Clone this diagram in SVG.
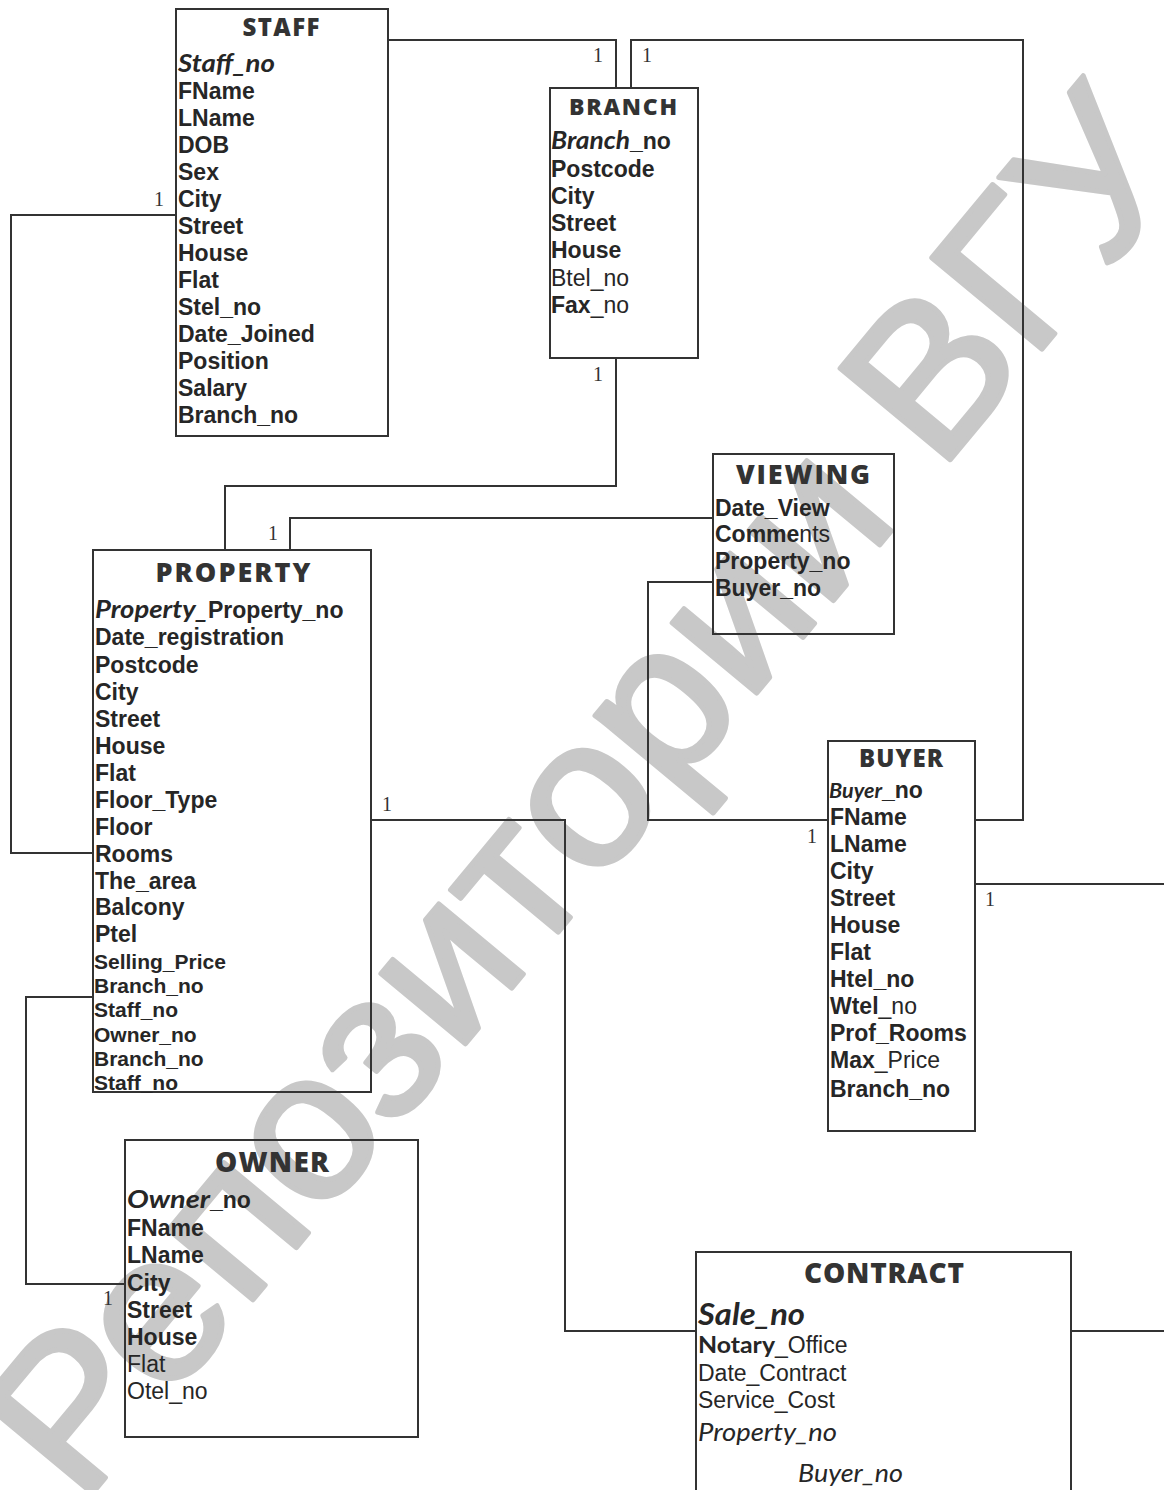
<svg xmlns="http://www.w3.org/2000/svg" width="1164" height="1490" viewBox="0 0 1164 1490">
<style>
.bg{fill:#ffffff}
.box{fill:none;stroke:#333333;stroke-width:2}
.wire{fill:none;stroke:#333333;stroke-width:2}
.t{font-family:"Open Sans","Noto Sans",sans-serif;font-weight:800;fill:#333333;text-anchor:middle}
.r{font-family:"Liberation Sans",Arial,sans-serif;font-weight:bold;font-size:23px;fill:#262626}
.rs{font-size:21px}
.n{font-weight:normal}
.it{font-family:"Lato","Open Sans",sans-serif;font-style:italic;font-weight:bold}
.itn{font-family:"Lato","Open Sans",sans-serif;font-style:italic;font-weight:normal}
.cb{font-family:"Lato","Open Sans",sans-serif;font-weight:bold}
.one{font-family:"Liberation Serif","Times New Roman",serif;font-size:20px;fill:#333333;text-anchor:middle}
.wm{font-family:"Liberation Sans",Arial,sans-serif;font-size:208px;fill:#c8c8c8;stroke:#c8c8c8;stroke-width:5;stroke-linejoin:round;text-anchor:middle}
</style>
<rect class="bg" x="0" y="0" width="1164" height="1490"/>

<g id="watermark">
<text class="wm" x="0" y="0" transform="translate(580,790) rotate(-50.3)" dy="74" textLength="1740" lengthAdjust="spacingAndGlyphs">Репозитории ВГУ</text>
</g>

<g id="connectors">
<path class="wire" d="M388,40 H616 V88"/>
<path class="wire" d="M631,88 V40 H1023 V820 H975"/>
<path class="wire" d="M176,215 H11 V853 H93"/>
<path class="wire" d="M616,358 V486 H225 V550"/>
<path class="wire" d="M713,518 H290 V550"/>
<path class="wire" d="M713,582 H648 V820 H827"/>
<path class="wire" d="M371,820 H565 V1331 H696"/>
<path class="wire" d="M975,884 H1164"/>
<path class="wire" d="M1071,1331 H1164"/>
<path class="wire" d="M93,997 H26 V1284 H124"/>
<text class="one" x="598" y="62">1</text>
<text class="one" x="647" y="62">1</text>
<text class="one" x="159" y="206">1</text>
<text class="one" x="598" y="381">1</text>
<text class="one" x="273" y="540">1</text>
<text class="one" x="387" y="811">1</text>
<text class="one" x="812" y="843">1</text>
<text class="one" x="990" y="906">1</text>
<text class="one" x="108" y="1305">1</text>
</g>

<g id="staff">
<rect class="box" x="176" y="9" width="212" height="427"/>
<text class="t" x="281" y="36" font-size="24" textLength="77" lengthAdjust="spacing">STAFF</text>
<text class="r" x="178" y="72"><tspan class="it" font-size="25" textLength="97" lengthAdjust="spacingAndGlyphs">Staff_no</tspan></text>
<text class="r" x="178" y="99">FName</text>
<text class="r" x="178" y="126">LName</text>
<text class="r" x="178" y="153">DOB</text>
<text class="r" x="178" y="180">Sex</text>
<text class="r" x="178" y="207">City</text>
<text class="r" x="178" y="234">Street</text>
<text class="r" x="178" y="261">House</text>
<text class="r" x="178" y="288">Flat</text>
<text class="r" x="178" y="315">Stel_no</text>
<text class="r" x="178" y="342">Date_Joined</text>
<text class="r" x="178" y="369">Position</text>
<text class="r" x="178" y="396">Salary</text>
<text class="r" x="178" y="423">Branch_no</text>
</g>

<g id="branch">
<rect class="box" x="550" y="88" width="148" height="270"/>
<text class="t" x="623" y="115" font-size="23" textLength="108" lengthAdjust="spacing">BRANCH</text>
<text class="r" x="551" y="149"><tspan class="it" font-size="24" textLength="79" lengthAdjust="spacingAndGlyphs">Branch</tspan><tspan>_no</tspan></text>
<text class="r" x="551" y="177">Postcode</text>
<text class="r" x="551" y="204">City</text>
<text class="r" x="551" y="231">Street</text>
<text class="r" x="551" y="258">House</text>
<text class="r n" x="551" y="286">Btel_no</text>
<text class="r" x="551" y="313">Fax<tspan class="n">_no</tspan></text>
</g>

<g id="viewing">
<rect class="box" x="713" y="454" width="181" height="180"/>
<text class="t" x="803" y="484" font-size="27" textLength="134" lengthAdjust="spacing">VIEWING</text>
<text class="r" x="715" y="516">Date_View</text>
<text class="r" x="715" y="542">Comme<tspan class="n">nts</tspan></text>
<text class="r" x="715" y="569">Property_no</text>
<text class="r" x="715" y="596">Buyer_no</text>
</g>

<g id="property">
<rect class="box" x="93" y="550" width="278" height="542"/>
<text class="t" x="233" y="582" font-size="27" textLength="155" lengthAdjust="spacing">PROPERTY</text>
<text class="r" x="95" y="618"><tspan class="it" font-size="25" textLength="113" lengthAdjust="spacingAndGlyphs">Property_</tspan><tspan>Property_no</tspan></text>
<text class="r" x="95" y="645">Date_registration</text>
<text class="r" x="95" y="673">Postcode</text>
<text class="r" x="95" y="700">City</text>
<text class="r" x="95" y="727">Street</text>
<text class="r" x="95" y="754">House</text>
<text class="r" x="95" y="781">Flat</text>
<text class="r" x="95" y="808">Floor_Type</text>
<text class="r" x="95" y="835">Floor</text>
<text class="r" x="95" y="862">Rooms</text>
<text class="r" x="95" y="889">The_area</text>
<text class="r" x="95" y="915">Balcony</text>
<text class="r" x="95" y="942">Ptel</text>
<text class="r rs" x="94" y="969">Selling_Price</text>
<text class="r rs" x="94" y="993">Branch_no</text>
<text class="r rs" x="94" y="1017">Staff_no</text>
<text class="r rs" x="94" y="1042">Owner_no</text>
<text class="r rs" x="94" y="1066">Branch_no</text>
<text class="r rs" x="94" y="1090">Staff_no</text>
</g>

<g id="buyer">
<rect class="box" x="828" y="741" width="147" height="390"/>
<text class="t" x="901" y="767" font-size="24" textLength="84" lengthAdjust="spacing">BUYER</text>
<text class="r" x="829" y="798"><tspan class="it" font-size="20" textLength="53" lengthAdjust="spacingAndGlyphs">Buyer</tspan><tspan>_no</tspan></text>
<text class="r" x="830" y="825">FName</text>
<text class="r" x="830" y="852">LName</text>
<text class="r" x="830" y="879">City</text>
<text class="r" x="830" y="906">Street</text>
<text class="r" x="830" y="933">House</text>
<text class="r" x="830" y="960">Flat</text>
<text class="r" x="830" y="987">Htel_no</text>
<text class="r" x="830" y="1014">Wtel<tspan class="n">_no</tspan></text>
<text class="r" x="830" y="1041">Prof_Rooms</text>
<text class="r" x="830" y="1068">Max<tspan class="n">_Price</tspan></text>
<text class="r" x="830" y="1097">Branch_no</text>
</g>

<g id="owner">
<rect class="box" x="125" y="1140" width="293" height="297"/>
<text class="t" x="272" y="1172" font-size="28" textLength="114" lengthAdjust="spacing">OWNER</text>
<text class="r" x="127" y="1208"><tspan class="it" font-size="25" textLength="83" lengthAdjust="spacingAndGlyphs">Owner</tspan><tspan>_no</tspan></text>
<text class="r" x="127" y="1236">FName</text>
<text class="r" x="127" y="1263">LName</text>
<text class="r" x="127" y="1291">City</text>
<text class="r" x="127" y="1318">Street</text>
<text class="r" x="127" y="1345">House</text>
<text class="r n" x="127" y="1372">Flat</text>
<text class="r n" x="127" y="1399">Otel_no</text>
</g>

<g id="contract">
<rect class="box" x="696" y="1252" width="375" height="250"/>
<text class="t" x="884" y="1283" font-size="28" textLength="160" lengthAdjust="spacing">CONTRACT</text>
<text class="r" x="698" y="1325"><tspan class="it" font-size="30" textLength="107" lengthAdjust="spacingAndGlyphs">Sale_no</tspan></text>
<text class="r" x="698" y="1353"><tspan class="cb" font-size="23" textLength="77" lengthAdjust="spacingAndGlyphs">Notary</tspan><tspan class="n">_Office</tspan></text>
<text class="r n" x="698" y="1381">Date_Contract</text>
<text class="r n" x="698" y="1408">Service_Cost</text>
<text class="r" x="698" y="1441"><tspan class="itn" font-size="25" textLength="139" lengthAdjust="spacingAndGlyphs">Property_no</tspan></text>
<text class="r" x="798" y="1482"><tspan class="itn" font-size="25" textLength="105" lengthAdjust="spacingAndGlyphs">Buyer_no</tspan></text>
</g>
</svg>
